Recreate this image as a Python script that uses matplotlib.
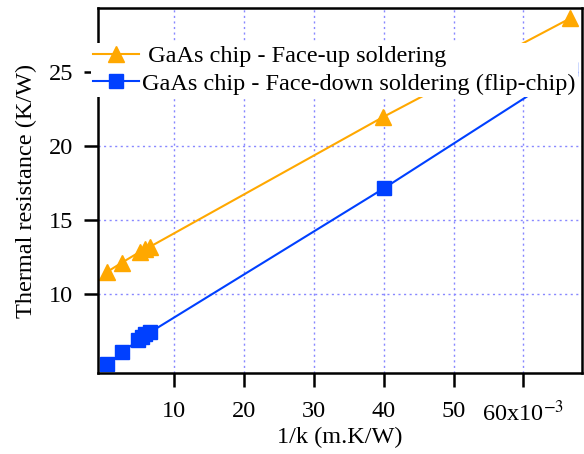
import matplotlib
matplotlib.use('Agg')
import matplotlib.pyplot as plt

# 1/k in units of 1e-3 m.K/W
x_up = [0.40, 2.46, 5.09, 5.80, 6.52, 39.9, 66.7]
r_up = [11.52, 12.13, 12.87, 13.05, 13.21, 21.95, 28.6]

x_down = [0.40, 2.55, 4.84, 5.33, 5.80, 6.52, 40.0, 66.7]
r_down = [5.28, 6.09, 6.92, 7.14, 7.32, 7.44, 17.14, 25.2]

label_up = ' GaAs chip - Face-up soldering'
label_down = 'GaAs chip - Face-down soldering (flip-chip)'

xticks = [10, 20, 30, 40, 50, 60]
xticklabels = ['10', '20', '30', '40', '50', '60x10$^{-3}$']
yticks = [10, 15, 20, 25]

plt.rcParams['font.family'] = ['Liberation Serif', 'DejaVu Serif']
plt.rcParams['mathtext.fontset'] = 'stix'

fs = 17.5
fig = plt.figure(figsize=(5.84, 4.54), dpi=100)
ax = fig.add_axes([98 / 584, 1 - 373 / 454, 484 / 584, 365 / 454])

ax.plot(x_up, r_up, '-^', color='#FFA800', lw=1.5, ms=11, label=label_up)
ax.plot(x_down, r_down, '-s', color='#0040FF', lw=1.5, ms=9.5, label=label_down)

ax.set_xlim(-0.93, 68.4)
ax.set_ylim(4.7, 29.3)
ax.set_xticks(xticks)
ax.set_xticklabels(xticklabels)
ax.set_yticks(yticks)
ax.grid(True, color='#8888ff', linestyle=(0, (1.5, 2.5)), lw=1)
ax.set_axisbelow(True)
ax.tick_params(direction='out', length=10, width=1.8, labelsize=fs, pad=8)
ax.tick_params(axis='x', pad=10)
for sp in ax.spines.values():
    sp.set_linewidth(1.8)

ax.set_xlabel('1/k (m.K/W)', fontsize=fs, labelpad=0)
ax.set_ylabel('Thermal resistance (K/W)', fontsize=fs, labelpad=8)

leg = ax.legend(loc='upper left', bbox_to_anchor=(-0.015, 0.905), fontsize=fs,
                frameon=True, framealpha=1, edgecolor='none', facecolor='white',
                fancybox=False, handlelength=1.9, handletextpad=0.1,
                borderpad=0.1, labelspacing=0.24, borderaxespad=0)
leg.set_zorder(10)

fig.savefig('out.png', dpi=100)
